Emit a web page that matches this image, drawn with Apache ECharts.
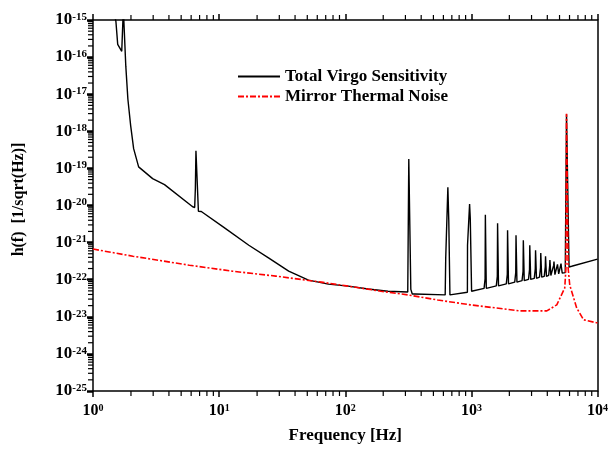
<!DOCTYPE html>
<html>
<head>
<meta charset="utf-8">
<script src="https://cdn.jsdelivr.net/npm/echarts@6/dist/echarts.min.js"></script>
<style>
html, body { margin: 0; padding: 0; background: #fff; }
#chart { width: 611px; height: 449px; }
</style>
</head>
<body>
<div id="chart"></div>
<script>
// Total Virgo Sensitivity, broadband part [Hz], [1/sqrt(Hz)]
var sensFreq = [1.45, 1.52, 1.57, 1.69, 1.73, 1.74, 1.80, 1.82, 1.89, 1.99, 2.10, 2.30,
    2.97, 3.69, 6.13, 6.40, 6.48, 6.55, 6.75, 6.85, 7.22, 10.9, 17.2, 24.8, 35.6, 51.1,
    73.5, 105.6, 151.7, 218, 313, 317, 319, 329, 331, 340, 356, 620,
    624, 626, 648, 651, 658, 662, 672, 676, 930,
    932, 965, 968, 976, 980, 1000, 1004,
    5550, 5680, 5730, 5950, 6240, 10000];
var sensH = [2e-15, 9e-16, 2.2e-16, 1.43e-16, 1.43e-16, 2e-15, 2e-15, 5.7e-17, 7.4e-18, 1.4e-18, 3.4e-19, 1.1e-19,
    5.3e-20, 3.66e-20, 9.4e-21, 8.8e-21, 2.86e-20, 3.0e-19, 3.0e-19, 7.0e-21, 6.9e-21, 2.57e-21, 8.5e-22, 3.8e-22, 1.7e-22, 9.75e-23,
    7.6e-23, 6.7e-23, 5.6e-23, 4.9e-23, 4.65e-23, 4.6e-23, 1.8e-19, 1.8e-19, 5.5e-23, 4.1e-23, 4.1e-23, 3.9e-23,
    3.9e-23, 3.8e-22, 3.8e-22, 3.1e-20, 3.1e-20, 4.0e-21, 4.0e-21, 3.9e-23, 4.6e-23,
    8.5e-22, 8.5e-22, 1.1e-20, 1.1e-20, 4.5e-21, 4.5e-21, 4.9e-23,
    1.55e-22, 2.9e-18, 2.9e-18, 2.2e-22, 2.3e-22, 3.6e-22];

// violin mode harmonics
var violinFreq = [1300, 1625, 1950, 2275, 2600, 2925, 3250, 3575, 3900, 4225, 4550, 4875, 5200];
var violinPeak = [5.6e-21, 3.3e-21, 2.14e-21, 1.57e-21, 1.15e-21, 8.5e-22, 6.2e-22, 5.2e-22, 4.3e-22, 3.4e-22, 3.1e-22, 2.6e-22, 2.3e-22];
var violinBase = [5.85e-23, 6.8e-23, 7.7e-23, 8.6e-23, 9.4e-23, 1.02e-22, 1.09e-22, 1.17e-22, 1.23e-22, 1.3e-22, 1.37e-22, 1.44e-22, 1.5e-22];

// Mirror Thermal Noise
var mirrorFreq = [1, 2.07, 5.8, 12.7, 28.1, 64.7, 105.6, 192, 313, 540, 982, 2430, 3965, 4755,
    5500, 5620, 5680, 5740, 5850, 6025, 6840, 7760, 9820, 10000];
var mirrorH = [6.7e-22, 4.3e-22, 2.46e-22, 1.7e-22, 1.25e-22, 8.6e-23, 6.7e-23, 4.9e-23, 3.9e-23, 2.84e-23, 2.1e-23, 1.44e-23, 1.44e-23, 2.1e-23,
    6.0e-23, 2.05e-22, 2.95e-18, 2.95e-18, 2.05e-22, 7.2e-23, 1.73e-23, 8.3e-24, 6.9e-24, 6.9e-24];

var xDecades = [1, 10, 100, 1000, 10000];
var yExponents = [-25, -24, -23, -22, -21, -20, -19, -18, -17, -16, -15];

var FONT = 'Liberation Serif';

// black curve: broadband points plus violin spikes, sorted by frequency
var sensPts = sensFreq.map(function (f, i) { return [f, Math.log10(sensH[i])]; });
violinFreq.forEach(function (f, i) {
    var b = violinBase[i], p = violinPeak[i];
    sensPts.push([f * 0.97, Math.log10(b)]);
    sensPts.push([f * 0.988, Math.log10(b * 1.8)]);
    sensPts.push([f * 0.993, Math.log10(p)]);
    sensPts.push([f * 1.005, Math.log10(p)]);
    sensPts.push([f * 1.01, Math.log10(b)]);
});
sensPts.sort(function (a, b) { return a[0] - b[0]; });

var mirrorPts = mirrorFreq.map(function (f, i) { return [f, Math.log10(mirrorH[i])]; });

// minor tick positions (2..9 in each decade)
var xMinor = [], yMinor = [];
for (var d = 0; d < xDecades.length - 1; d++) {
    for (var k = 2; k <= 9; k++) xMinor.push([xDecades[d] * k, -25]);
}
for (var e = 0; e < yExponents.length - 1; e++) {
    for (var k2 = 2; k2 <= 9; k2++) yMinor.push([1, yExponents[e] + Math.log10(k2)]);
}

var chart = echarts.init(document.getElementById('chart'), null, { renderer: 'canvas' });

var supRich = function (big, small) {
    return {
        b: { fontFamily: FONT, fontWeight: 'bold', fontSize: big, color: '#000' },
        s: { fontFamily: FONT, fontWeight: 'bold', fontSize: small, color: '#000', verticalAlign: 'top' }
    };
};

chart.setOption({
    animation: false,
    backgroundColor: '#fff',
    textStyle: { fontFamily: FONT, fontWeight: 'bold', color: '#000' },
    grid: { left: 93, top: 20, width: 508, height: 373, containLabel: false },
    legend: {
        data: ['Total Virgo Sensitivity', 'Mirror Thermal Noise'],
        orient: 'vertical',
        left: 232,
        top: 63,
        itemWidth: 42,
        itemHeight: 14,
        itemGap: 3,
        itemStyle: { opacity: 0 },
        textStyle: { fontFamily: FONT, fontWeight: 'bold', fontSize: 17, color: '#000' }
    },
    xAxis: [{
        type: 'log',
        logBase: 10,
        min: 1,
        max: 10000,
        name: 'Frequency [Hz]',
        nameLocation: 'middle',
        nameGap: 36,
        nameTextStyle: { fontFamily: FONT, fontWeight: 'bold', fontSize: 17, color: '#000' },
        axisLine: { lineStyle: { color: '#000', width: 1.5 } },
        axisTick: { inside: false, length: 6, lineStyle: { color: '#000', width: 1.5 } },
        splitLine: { show: false },
        axisLabel: {
            margin: 12,
            formatter: function (v) { return '{b|10}{s|' + Math.round(Math.log10(v)) + '}'; },
            rich: supRich(16, 10)
        }
    }, {
        type: 'log',
        logBase: 10,
        position: 'top',
        min: 1,
        max: 10000,
        axisLine: { lineStyle: { color: '#000', width: 1.5 } },
        axisTick: { inside: false, length: 6, lineStyle: { color: '#000', width: 1.5 } },
        axisLabel: { show: false },
        splitLine: { show: false }
    }],
    yAxis: [{
        type: 'value',
        min: -25,
        max: -15,
        interval: 1,
        name: 'h(f)  [1/sqrt(Hz)]',
        nameLocation: 'middle',
        nameGap: 66,
        nameTextStyle: { fontFamily: FONT, fontWeight: 'bold', fontSize: 16, color: '#000', padding: [0, 0, 0, 12] },
        axisLine: { show: true, lineStyle: { color: '#000', width: 1.5 } },
        axisTick: { show: true, inside: false, length: 6, lineStyle: { color: '#000', width: 2.5 } },
        splitLine: { show: false },
        axisLabel: {
            margin: 6,
            formatter: function (v) { return '{b|10}{s|' + v + '}'; },
            rich: supRich(17, 11)
        }
    }, {
        type: 'value',
        position: 'right',
        min: -25,
        max: -15,
        interval: 1,
        axisLine: { show: true, lineStyle: { color: '#000', width: 1.5 } },
        axisTick: { show: false },
        axisLabel: { show: false },
        splitLine: { show: false }
    }],
    series: [{
        name: 'Total Virgo Sensitivity',
        type: 'line',
        xAxisIndex: 0,
        yAxisIndex: 0,
        data: sensPts,
        symbol: 'none',
        showSymbol: false,
        clip: true,
        lineStyle: { color: '#000', width: 1.4 },
        itemStyle: { color: '#000' },
        z: 3
    }, {
        name: 'Mirror Thermal Noise',
        type: 'line',
        xAxisIndex: 0,
        yAxisIndex: 0,
        data: mirrorPts,
        symbol: 'none',
        showSymbol: false,
        clip: true,
        lineStyle: { color: '#ff0000', width: 1.6, type: [6, 2, 2, 2] },
        itemStyle: { color: '#ff0000' },
        z: 4
    }, {
        type: 'custom',
        xAxisIndex: 0,
        yAxisIndex: 0,
        silent: true,
        clip: false,
        data: xMinor,
        renderItem: function (params, api) {
            var f = api.value(0);
            var b = api.coord([f, -25]);
            var t = api.coord([f, -15]);
            return {
                type: 'group',
                children: [
                    { type: 'line', shape: { x1: b[0], y1: b[1], x2: b[0], y2: b[1] + 5 }, style: { stroke: '#000', lineWidth: 1.2 } },
                    { type: 'line', shape: { x1: t[0], y1: t[1], x2: t[0], y2: t[1] - 5 }, style: { stroke: '#000', lineWidth: 1.2 } }
                ]
            };
        },
        z: 5
    }, {
        type: 'custom',
        xAxisIndex: 0,
        yAxisIndex: 0,
        silent: true,
        clip: false,
        data: yMinor,
        renderItem: function (params, api) {
            var c = api.coord([1, api.value(1)]);
            return { type: 'line', shape: { x1: c[0] - 5, y1: c[1], x2: c[0], y2: c[1] }, style: { stroke: '#000', lineWidth: 1.2 } };
        },
        z: 5
    }]
});
</script>
</body>
</html>
